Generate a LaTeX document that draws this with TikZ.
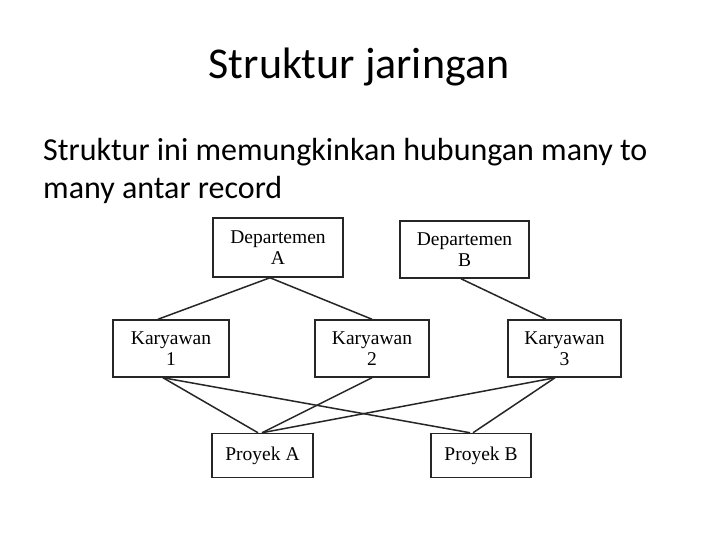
\documentclass[tikz,border=0pt]{standalone}
\usepackage{fontspec}
\setmainfont{Liberation Serif}
\newfontfamily\calfont{Carlito}
\begin{document}
\begin{tikzpicture}[x=1pt,y=-1pt,
  rec/.style={draw=black!85,line width=1.5pt,inner sep=0pt,align=center,
    font=\fontsize{19.5}{21}\selectfont},
  link/.style={draw=black!85,line width=1.5pt}]
\fill[white] (0,0) rectangle (720,540);
\useasboundingbox (0,0) rectangle (720,540);
\node[font=\calfont\fontsize{44}{53}\selectfont] (title) at (359,67) {Struktur jaringan};
\node[anchor=base west,inner sep=0pt,font=\calfont\fontsize{32}{38}\selectfont] (l1) at (43,161) {Struktur ini memungkinkan hubungan many to};
\node[anchor=base west,inner sep=0pt,font=\calfont\fontsize{32}{38}\selectfont] (l2) at (43,199) {many antar record};
\node[rec,minimum width=130pt,minimum height=59pt] (da) at (278,247.5) {Departemen\\A};
\node[rec,minimum width=129pt,minimum height=57pt] (db) at (464.5,249.5) {Departemen\\B};
\node[rec,minimum width=116pt,minimum height=57pt] (k1) at (171,348.5) {Karyawan\\1};
\node[rec,minimum width=114pt,minimum height=57pt] (k2) at (372,348.5) {Karyawan\\2};
\node[rec,minimum width=113pt,minimum height=57pt] (k3) at (564.5,348.5) {Karyawan\\3};
\node[rec,minimum width=101pt,minimum height=44pt] (pa) at (262.5,455.5) {Proyek A};
\node[rec,minimum width=100pt,minimum height=44pt] (pb) at (481,455.5) {Proyek B};
\draw[link] ([xshift=-8pt]da.south) -- ([xshift=-13pt]k1.north);
\draw[link] ([xshift=-8pt]da.south) -- (k2.north);
\draw[link] ([xshift=-3.5pt]db.south) -- ([xshift=-18.5pt]k3.north);
\draw[link] ([xshift=-8pt]k1.south) -- ([xshift=-4.5pt]pa.north);
\draw[link] ([xshift=-8pt]k1.south) -- ([xshift=-11pt]pb.north);
\draw[link] (k2.south) -- ([xshift=-0.5pt]pa.north);
\draw[link] ([xshift=-9.5pt]k3.south) -- ([xshift=-0.5pt]pa.north);
\draw[link] ([xshift=-9.5pt]k3.south) -- ([xshift=-8pt]pb.north);
\end{tikzpicture}
\end{document}
